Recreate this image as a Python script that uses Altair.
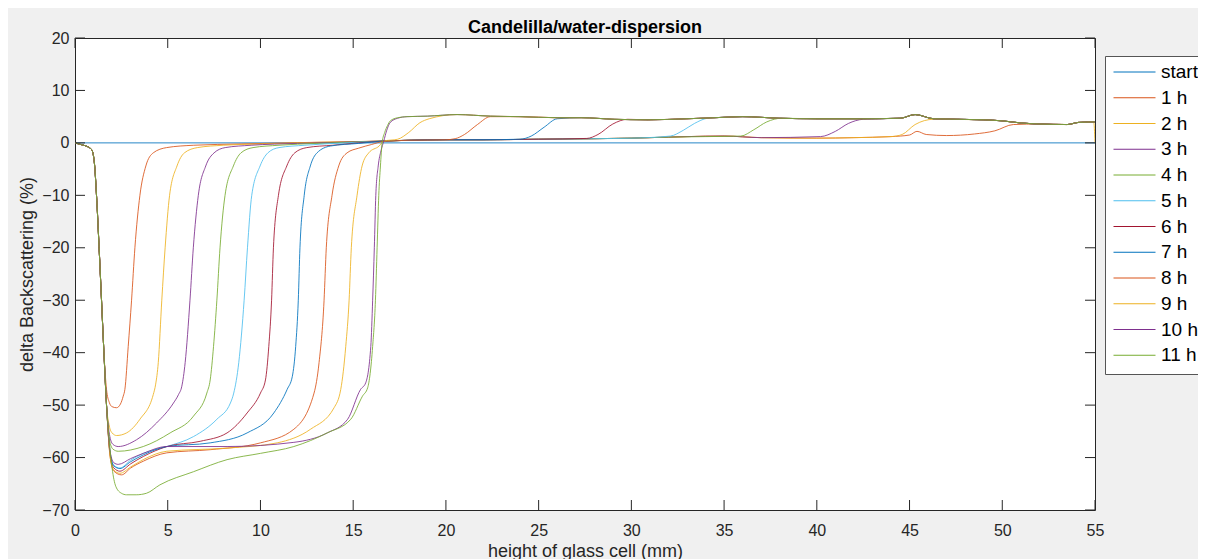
import altair as alt
import pandas as pd

SERIES = ["start", "1 h", "2 h", "3 h", "4 h", "5 h", "6 h", "7 h", "8 h", "9 h", "10 h", "11 h"]
COLORS = ["#0072BD", "#D95319", "#EDB120", "#7E2F8E", "#77AC30", "#4DBEEE",
          "#A2142F", "#0072BD", "#D95319", "#EDB120", "#7E2F8E", "#77AC30"]
X_TICKS = [0, 5, 10, 15, 20, 25, 30, 35, 40, 45, 50, 55]
Y_TICKS = [-70, -60, -50, -40, -30, -20, -10, 0, 10, 20]

# common initial descent
DESCENT = [(0, 0), (0.3, -0.3), (0.6, -0.6), (0.9, -1.3), (1.05, -4), (1.16, -10),
           (1.3, -20), (1.43, -30), (1.56, -40)]
# common right-hand plateau end
UPPER_TAIL = [(44.5, 4.7), (45.3, 5.4), (46.3, 4.6), (49, 4.4), (50, 4.2), (51, 3.8),
              (52, 3.6), (53.5, 3.5), (54.1, 3.9), (55, 4.0)]

START = [(0, 0), (55, 0)]

H1 = DESCENT + [(1.7, -47), (1.85, -49.5), (2.0, -50.3), (2.24, -50.5), (2.45, -49.8), (2.6, -48.3),
                (2.69, -47), (2.87, -38.8), (3.05, -30), (3.23, -20), (3.5, -10), (3.82, -4.4),
                (4.22, -1.9), (4.94, -0.9), (6.4, -0.45), (9, -0.2), (12, 0.05), (14.5, 0.2),
                (16.65, 0.35), (18, 0.5), (20, 0.6), (22, 0.6), (25, 0.7), (28, 0.8), (30, 0.9),
                (32, 1.1), (33, 1.2), (35, 1.3), (37, 1.0), (40, 0.9), (42, 1.0), (44, 1.2),
                (45.0, 1.5), (45.4, 2.2), (45.9, 1.6), (47, 1.4), (48.5, 1.7), (49.6, 2.3),
                (50.6, 3.5), (52, 3.6), (53.5, 3.5), (54.1, 3.9), (55, 4.0)]

H2 = DESCENT + [(1.7, -50), (1.85, -54), (2.0, -55.3), (2.24, -55.8), (2.78, -55.3), (3.5, -52.7),
                (4.22, -48.0), (4.35, -46), (4.49, -41.9), (4.68, -30), (4.86, -20), (5.1, -10),
                (5.5, -4.4), (5.9, -1.9), (6.6, -0.9), (8.0, -0.45), (10, -0.2), (13, 0.1),
                (16.65, 0.35), (18, 0.5), (20, 0.6), (22, 0.6), (25, 0.7), (28, 0.8), (30, 0.9),
                (32, 1.1), (33, 1.2), (35, 1.3), (37, 1.0), (40, 0.9), (42, 1.0), (44, 1.2),
                (44.6, 1.6), (45.3, 3.5), (46.3, 4.5), (49, 4.4), (50, 4.2), (51, 3.8), (52, 3.6),
                (53.5, 3.5), (54.1, 3.9), (54.93, 4.0), (55, 0.1)]

H3 = DESCENT + [(1.7, -50), (1.88, -56), (2.05, -57.5), (2.33, -57.9), (3.32, -56.6), (4.40, -53.4),
                (5.31, -49.6), (5.58, -48.0), (5.76, -46.4), (5.94, -41.9), (6.2, -30), (6.38, -20),
                (6.65, -10), (7.05, -4.4), (7.5, -1.9), (8.1, -0.9), (9.5, -0.45), (12, -0.1),
                (14.5, 0.15), (16.65, 0.35), (18, 0.5), (20, 0.6), (22, 0.6), (25, 0.7), (28, 0.8),
                (30, 0.9), (32, 1.1), (33, 1.2), (35, 1.3), (37, 1.0), (40.2, 1.2), (41.0, 2.2),
                (41.7, 3.7), (42.5, 4.5)] + UPPER_TAIL

H4 = DESCENT + [(1.7, -50), (1.88, -57), (2.05, -58.4), (2.33, -58.8), (3.68, -57.9), (5.13, -55.3),
                (6.39, -52.1), (7.11, -47.7), (7.29, -45.2), (7.47, -38.8), (7.65, -30), (7.82, -20),
                (8.09, -10), (8.54, -4.4), (8.95, -1.9), (9.6, -0.9), (11, -0.45), (13, -0.1),
                (16.65, 0.35), (18, 0.5), (20, 0.6), (22, 0.6), (25, 0.7), (28, 0.8), (30, 0.9),
                (32, 1.1), (34, 1.2), (35.9, 1.3), (36.6, 2.5), (37.3, 4.0), (38.1, 4.7), (40, 4.6),
                (42.4, 4.6)] + UPPER_TAIL

H5 = DESCENT + [(1.7, -50), (1.9, -59), (2.1, -61.5), (2.42, -62.0), (3.0, -60.5), (3.68, -59.2),
                (4.95, -57.9), (6.39, -56.0), (7.65, -52.7), (8.38, -49.6), (8.56, -47.7),
                (8.83, -41.9), (9.12, -30), (9.3, -20), (9.53, -10), (9.98, -4.4), (10.4, -1.9),
                (11.0, -0.9), (12.4, -0.45), (14.5, 0.0), (16.65, 0.35), (18, 0.5), (20, 0.6),
                (22, 0.6), (25, 0.7), (28, 0.8), (30, 0.9), (32.1, 1.3), (32.8, 2.4), (33.4, 3.7),
                (34.1, 4.7), (34.5, 4.8), (36, 5.0), (38, 4.7), (40, 4.6), (42.4, 4.6)] + UPPER_TAIL

H6 = DESCENT + [(1.7, -50), (1.9, -59.5), (2.1, -62), (2.42, -62.6), (3.0, -61.2), (3.68, -59.8),
                (4.95, -57.9), (6.75, -56.9), (8.2, -55.3), (9.28, -51.5), (10.0, -47.7),
                (10.27, -45.2), (10.45, -38.8), (10.6, -30), (10.7, -20), (10.97, -10),
                (11.42, -4.4), (11.85, -1.9), (12.5, -0.9), (13.9, -0.45), (16.65, 0.35), (18, 0.5),
                (20, 0.6), (22, 0.6), (25, 0.7), (27.6, 0.85), (28.2, 1.6), (29.0, 3.6), (29.8, 4.5),
                (30.9, 4.4), (33, 4.6), (34.5, 4.8), (36, 5.0), (38, 4.7), (40, 4.6),
                (42.4, 4.6)] + UPPER_TAIL

H7 = DESCENT + [(1.7, -50), (1.9, -59.5), (2.1, -61.6), (2.42, -62.1), (3.0, -60.8), (3.68, -59.5),
                (4.95, -57.9), (7.29, -57.2), (9.28, -55.3), (10.72, -51.5), (11.44, -47.0),
                (11.72, -44.5), (11.9, -38.8), (12.04, -30), (12.13, -20), (12.36, -10),
                (12.69, -4.4), (13.05, -1.9), (13.77, -0.6), (15.3, -0.1), (16.65, 0.35), (18, 0.5),
                (20, 0.6), (22, 0.6), (24.0, 0.7), (24.6, 1.3), (25.3, 3.0), (26.0, 4.6),
                (27.3, 4.8), (29.1, 4.5), (30.9, 4.4), (33, 4.6), (34.5, 4.8), (36, 5.0), (38, 4.7),
                (40, 4.6), (42.4, 4.6)] + UPPER_TAIL

H8 = DESCENT + [(1.7, -50), (1.9, -60), (2.1, -62.6), (2.51, -63.3), (3.0, -62), (3.68, -60.7),
                (4.95, -59.1), (7.29, -58.5), (10.0, -57.2), (11.8, -54.6), (12.89, -47.7),
                (13.16, -41.9), (13.43, -30), (13.55, -20), (13.86, -10), (14.22, -4.4),
                (14.67, -1.9), (15.3, -1.0), (16.0, -0.3), (16.65, 0.3), (18, 0.5), (20, 0.6),
                (20.5, 0.8), (21.0, 1.6), (21.7, 3.5), (22.4, 5.0), (24, 5.0), (26, 4.8),
                (27.3, 4.8), (29.1, 4.5), (30.9, 4.4), (33, 4.6), (34.5, 4.8), (36, 5.0), (38, 4.7),
                (40, 4.6), (42.4, 4.6)] + UPPER_TAIL

H9 = DESCENT + [(1.7, -50), (1.9, -60), (2.1, -62.4), (2.42, -63.0), (3.0, -61.8), (3.68, -60.4),
                (4.95, -58.8), (8.2, -58.2), (10.9, -57.2), (12.7, -54.6), (13.97, -50.5),
                (14.33, -47.0), (14.6, -38.8), (14.78, -30), (14.9, -20), (15.21, -10),
                (15.48, -4.4), (15.84, -1.9), (16.4, -0.6), (16.65, 0.35), (17.4, 0.7), (18.0, 2.0),
                (18.6, 3.85), (19.1, 4.6), (20.6, 5.4), (22.4, 5.1), (24, 5.0), (26, 4.8),
                (27.3, 4.8), (29.1, 4.5), (30.9, 4.4), (33, 4.6), (34.5, 4.8), (36, 5.0), (38, 4.7),
                (40, 4.6), (42.4, 4.6)] + UPPER_TAIL

H10 = DESCENT + [(1.7, -50), (1.9, -59), (2.1, -61), (2.33, -61.3), (3.0, -60.2), (3.68, -59.2),
                 (4.95, -57.9), (8.2, -57.9), (11.8, -57.1), (13.6, -55.3), (14.7, -52.7),
                 (15.4, -47.0), (15.67, -45.8), (15.95, -38.8), (16.05, -30), (16.14, -20),
                 (16.22, -10), (16.35, -4.4), (16.5, -1.5), (16.65, 0.35), (16.8, 2.3), (17.0, 3.9),
                 (17.4, 4.7), (17.9, 5.0), (19, 5.1), (20.6, 5.4), (22.4, 5.1), (24, 5.0), (26, 4.8),
                 (27.3, 4.8), (29.1, 4.5), (30.9, 4.4), (33, 4.6), (34.5, 4.8), (36, 5.0), (38, 4.7),
                 (40, 4.6), (42.4, 4.6)] + UPPER_TAIL

H11 = DESCENT + [(1.7, -50), (1.85, -57), (2.0, -62), (2.2, -65.5), (2.5, -66.8), (2.78, -67.1),
                 (3.3, -67.1), (3.86, -66.8), (4.58, -65.2), (6.39, -62.7), (8.2, -60.4),
                 (10.0, -59.2), (11.8, -57.9), (13.6, -55.3), (14.87, -52.7), (15.5, -48.3),
                 (15.78, -46.7), (16.05, -38.8), (16.2, -30), (16.29, -20), (16.38, -10),
                 (16.47, -4.4), (16.56, 0), (16.7, 2.0), (16.85, 3.3), (17.0, 4.2), (17.4, 4.8),
                 (17.9, 5.0), (19, 5.1), (20.6, 5.4), (22.4, 5.1), (24, 5.0), (26, 4.8), (27.3, 4.8),
                 (29.1, 4.5), (30.9, 4.4), (33, 4.6), (34.5, 4.8), (36, 5.0), (38, 4.7), (40, 4.6),
                 (42.4, 4.6)] + UPPER_TAIL

CURVES = [START, H1, H2, H3, H4, H5, H6, H7, H8, H9, H10, H11]

rows = []
for name, pts in zip(SERIES, CURVES):
    for j, (xv, yv) in enumerate(pts):
        rows.append({"series": name, "x": xv, "y": yv, "idx": j})
df = pd.DataFrame(rows)

W, H = 1020, 472
FONT = "Liberation Sans"
AX = "#262626"

xs = alt.Scale(domain=[0, 55], nice=False, zero=False)
ys = alt.Scale(domain=[-70, 20], nice=False, zero=False)

X_AXIS = alt.Axis(
    values=X_TICKS, title="height of glass cell (mm)", grid=False, domain=False,
    ticks=False, tickSize=0, labelPadding=12, labelFont=FONT, labelFontSize=16,
    labelColor=AX, titleFont=FONT, titleFontSize=18, titleFontWeight="normal",
    titleColor=AX, titlePadding=4, labelFlush=False)
Y_AXIS = alt.Axis(
    values=Y_TICKS, title="delta Backscattering (%)", grid=False, domain=False,
    ticks=False, tickSize=0, labelPadding=6, labelFont=FONT, labelFontSize=16,
    labelColor=AX, titleFont=FONT, titleFontSize=18, titleFontWeight="normal",
    titleColor=AX, titlePadding=5, labelFlush=False)

lines = alt.Chart(df).mark_line(strokeWidth=1, strokeOpacity=0.85, clip=True,
                                interpolate="monotone").encode(
    x=alt.X("x:Q", scale=xs, axis=X_AXIS),
    y=alt.Y("y:Q", scale=ys, axis=Y_AXIS),
    color=alt.Color("series:N", sort=SERIES,
                    scale=alt.Scale(domain=SERIES, range=COLORS),
                    legend=alt.Legend(
                        title=None, orient="none", legendX=1030, legendY=18,
                        symbolType="stroke", symbolSize=1764, symbolStrokeWidth=1,
                        labelFont=FONT, labelFontSize=19, labelColor="black",
                        labelOffset=5, clipHeight=16, rowPadding=6.75, padding=8,
                        strokeColor="#555555", fillColor="white")),
    order=alt.Order("idx:Q"),
)

xt = pd.DataFrame({"x": X_TICKS})
yt = pd.DataFrame({"y": Y_TICKS})

tick_bottom = alt.Chart(xt).mark_rule(color=AX, strokeWidth=1).encode(
    x=alt.X("x:Q", scale=xs, axis=X_AXIS), y=alt.value(H), y2=alt.value(H - 10))
tick_top = alt.Chart(xt).mark_rule(color=AX, strokeWidth=1).encode(
    x=alt.X("x:Q", scale=xs, axis=X_AXIS), y=alt.value(0), y2=alt.value(10))
tick_left = alt.Chart(yt).mark_rule(color=AX, strokeWidth=1).encode(
    y=alt.Y("y:Q", scale=ys, axis=Y_AXIS), x=alt.value(0), x2=alt.value(10))
tick_right = alt.Chart(yt).mark_rule(color=AX, strokeWidth=1).encode(
    y=alt.Y("y:Q", scale=ys, axis=Y_AXIS), x=alt.value(W), x2=alt.value(W - 10))

chart = alt.layer(lines, tick_bottom, tick_top, tick_left, tick_right).properties(
    width=W, height=H,
    title=alt.TitleParams("Candelilla/water-dispersion", font=FONT, fontSize=18,
                          fontWeight="bold", color="black", anchor="middle",
                          frame="group", offset=-7),
    autosize=alt.AutoSizeParams(type="none"),
    padding={"left": 67, "top": 30, "right": 103, "bottom": 49},
).configure(
    background="#f0f0f0",
).configure_view(
    fill="white", stroke=AX, strokeWidth=1,
)

chart.save("out.html", embed_options={"renderer": "svg", "actions": False})
